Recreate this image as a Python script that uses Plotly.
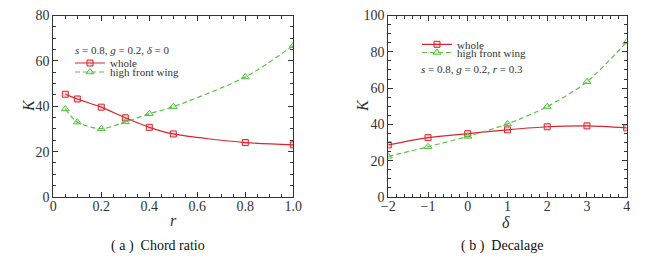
import plotly.graph_objects as go

# ---- data ----
r_vals = [0.05, 0.1, 0.2, 0.3, 0.4, 0.5, 0.8, 1.0]
k_whole_r = [45.3, 43.2, 39.6, 34.9, 30.7, 27.8, 24.0, 23.0]
k_front_r = [38.8, 33.0, 30.1, 33.1, 36.7, 39.8, 52.9, 66.7]

delta_vals = [-2, -1, 0, 1, 2, 3, 4]
k_whole_d = [28.7, 32.7, 34.9, 37.0, 38.7, 39.2, 38.1]
k_front_d = [22.4, 27.7, 33.4, 40.3, 49.8, 63.5, 85.4]

r_ticks = [0, 0.2, 0.4, 0.6, 0.8, 1.0]
r_ticktext = ["0", "0.2", "0.4", "0.6", "0.8", "1.0"]

series_names = ["whole", "high front wing"]
captions = ["( a )  Chord ratio", "( b )  Decalage"]
notes = ["<i>s</i> = 0.8, <i>g</i> = 0.2, <i>δ</i> = 0",
         "<i>s</i> = 0.8, <i>g</i> = 0.2, <i>r</i> = 0.3"]

W, H = 649, 266
RED = "#d8262e"
GREEN = "#5cc247"
TXT = "#333333"
FONT = "Liberation Serif, Times New Roman, serif"

def px(x):
    return x / W

def py(y):
    return 1 - y / H

fig = go.Figure()

def add_pair(xs, yw, yf, xa, ya, lg1, lg2):
    fig.add_trace(go.Scatter(
        x=xs, y=yw, name=series_names[0], mode="lines+markers",
        line=dict(color=RED, width=1.2, shape="spline", smoothing=0.8),
        marker=dict(symbol="square", size=6, color="rgba(216,38,46,0.18)",
                    line=dict(color=RED, width=1)),
        xaxis=xa, yaxis=ya, legend=lg1))
    fig.add_trace(go.Scatter(
        x=xs, y=yf, name=series_names[1], mode="lines+markers",
        line=dict(color=GREEN, width=1.2, dash="5px,3px", shape="spline", smoothing=0.8),
        marker=dict(symbol="triangle-up", size=7, color="rgba(92,194,71,0.25)",
                    line=dict(color=GREEN, width=1)),
        xaxis=xa, yaxis=ya, legend=lg2))

add_pair(r_vals, k_whole_r, k_front_r, "x", "y", "legend", "legend2")
add_pair(delta_vals, k_whole_d, k_front_d, "x2", "y2", "legend3", "legend4")

ydom = [py(197), py(15.5)]
axis_common = dict(
    showline=True, linecolor=TXT, linewidth=1, mirror="ticks",
    ticks="inside", ticklen=5, tickcolor=TXT, tickwidth=1,
    showgrid=False, zeroline=False, automargin=False,
    tickfont=dict(family=FONT, size=14, color=TXT),
)

fig.update_layout(
    width=W, height=H,
    margin=dict(l=0, r=0, t=0, b=0, autoexpand=False),
    paper_bgcolor="white", plot_bgcolor="white",
    font=dict(family=FONT, color=TXT),
    xaxis=dict(domain=[px(53.3), px(293.3)], range=[0, 1.0],
               tickvals=r_ticks, ticktext=r_ticktext, anchor="y",
               ticklabelstandoff=-4,
               minor=dict(dtick=0.05, ticks="inside", ticklen=3, tickcolor=TXT),
               **axis_common),
    yaxis=dict(domain=ydom, range=[0, 80], dtick=20, anchor="x",
               minor=dict(dtick=5, ticks="inside", ticklen=3, tickcolor=TXT),
               **axis_common),
    xaxis2=dict(domain=[px(388.3), px(626.7)], range=[-2, 4], dtick=1,
                anchor="y2", ticklabelstandoff=-4,
                minor=dict(dtick=0.2, ticks="inside", ticklen=3, tickcolor=TXT),
                **axis_common),
    yaxis2=dict(domain=ydom, range=[0, 100], dtick=20, anchor="x2",
                minor=dict(dtick=5, ticks="inside", ticklen=3, tickcolor=TXT),
                **axis_common),
    showlegend=True,
)

leg_common = dict(bgcolor="rgba(0,0,0,0)", borderwidth=0,
                  font=dict(family=FONT, size=11, color=TXT),
                  xanchor="left", yanchor="middle", itemwidth=30,
                  tracegroupgap=0)
fig.update_layout(
    legend=dict(x=px(70), y=py(63), **leg_common),
    legend2=dict(x=px(70), y=py(72), **leg_common),
    legend3=dict(x=px(417), y=py(44.3), **leg_common),
    legend4=dict(x=px(417), y=py(52.5), **leg_common),
)

def note(text, x, y, size, color=TXT, xanchor="center", angle=0):
    return dict(text=text, x=px(x), y=py(y), xref="paper", yref="paper",
                xanchor=xanchor, yanchor="middle", showarrow=False,
                textangle=angle, font=dict(family=FONT, size=size, color=color))

ann = [
    note(notes[0], 73, 50, 11, xanchor="left"),
    note(notes[1], 419, 69, 11, xanchor="left"),
    # axis titles
    note("<i>r</i>", 173, 220, 16),
    note("<i>K</i>", 28, 106, 16, angle=-90),
    note("<i>δ</i>", 506, 222, 16),
    note("<i>K</i>", 362, 106, 16, angle=-90),
    # captions
    note(captions[0], 158, 246, 14, color="#111111"),
    note(captions[1], 502, 246, 14, color="#111111"),
]
fig.update_layout(annotations=ann)

fig.write_html("out.html", config={"displayModeBar": False},
               post_script="document.body.style.margin='0px';document.body.style.overflow='hidden';")
